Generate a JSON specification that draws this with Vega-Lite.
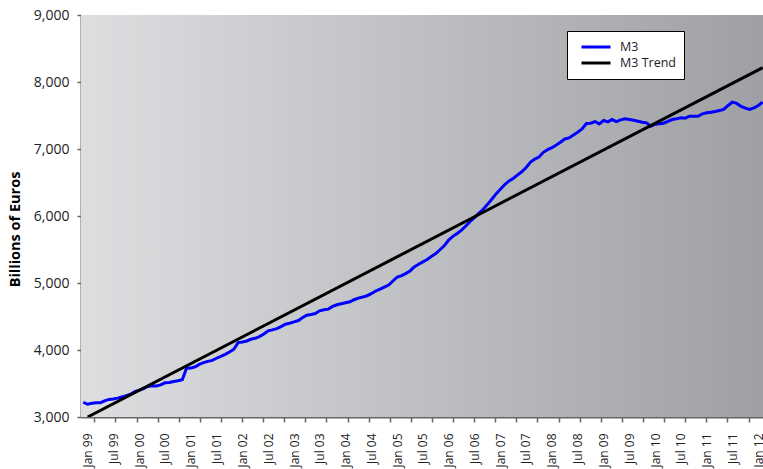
{
  "$schema": "https://vega.github.io/schema/vega-lite/v6.json",
  "width": 682,
  "height": 402,
  "autosize": {"type": "none"},
  "padding": {"left": 81, "top": 15, "right": 0, "bottom": 52},
  "background": "white",
  "config": {
    "font": "Open Sans",
    "view": {"stroke": null}
  },
  "layer": [
    {
      "data": {"values": [{"panel": "plot"}]},
      "mark": {
        "type": "rect",
        "color": {"gradient": "linear", "x1": 0, "y1": 0, "x2": 1, "y2": 0,
          "stops": [{"offset": 0, "color": "#dddee0"}, {"offset": 1, "color": "#9fa0a3"}]}
      },
      "encoding": {
        "x": {"value": 0},
        "x2": {"value": "width"},
        "y": {"value": 0},
        "y2": {"value": "height"}
      }
    },
    {
      "data": {"values": [
        {"date": "1998-12-01", "value": 3220, "series": "M3"},
        {"date": "1999-01-01", "value": 3190, "series": "M3"},
        {"date": "1999-02-01", "value": 3205, "series": "M3"},
        {"date": "1999-03-01", "value": 3214, "series": "M3"},
        {"date": "1999-04-01", "value": 3212, "series": "M3"},
        {"date": "1999-05-01", "value": 3240, "series": "M3"},
        {"date": "1999-06-01", "value": 3262, "series": "M3"},
        {"date": "1999-07-01", "value": 3270, "series": "M3"},
        {"date": "1999-08-01", "value": 3282, "series": "M3"},
        {"date": "1999-09-01", "value": 3300, "series": "M3"},
        {"date": "1999-10-01", "value": 3318, "series": "M3"},
        {"date": "1999-11-01", "value": 3340, "series": "M3"},
        {"date": "1999-12-01", "value": 3380, "series": "M3"},
        {"date": "2000-01-01", "value": 3400, "series": "M3"},
        {"date": "2000-02-01", "value": 3425, "series": "M3"},
        {"date": "2000-03-01", "value": 3455, "series": "M3"},
        {"date": "2000-04-01", "value": 3465, "series": "M3"},
        {"date": "2000-05-01", "value": 3462, "series": "M3"},
        {"date": "2000-06-01", "value": 3480, "series": "M3"},
        {"date": "2000-07-01", "value": 3510, "series": "M3"},
        {"date": "2000-08-01", "value": 3515, "series": "M3"},
        {"date": "2000-09-01", "value": 3530, "series": "M3"},
        {"date": "2000-10-01", "value": 3540, "series": "M3"},
        {"date": "2000-11-01", "value": 3555, "series": "M3"},
        {"date": "2000-12-01", "value": 3728, "series": "M3"},
        {"date": "2001-01-01", "value": 3730, "series": "M3"},
        {"date": "2001-02-01", "value": 3750, "series": "M3"},
        {"date": "2001-03-01", "value": 3785, "series": "M3"},
        {"date": "2001-04-01", "value": 3812, "series": "M3"},
        {"date": "2001-05-01", "value": 3830, "series": "M3"},
        {"date": "2001-06-01", "value": 3845, "series": "M3"},
        {"date": "2001-07-01", "value": 3877, "series": "M3"},
        {"date": "2001-08-01", "value": 3905, "series": "M3"},
        {"date": "2001-09-01", "value": 3935, "series": "M3"},
        {"date": "2001-10-01", "value": 3970, "series": "M3"},
        {"date": "2001-11-01", "value": 4012, "series": "M3"},
        {"date": "2001-12-01", "value": 4110, "series": "M3"},
        {"date": "2002-01-01", "value": 4120, "series": "M3"},
        {"date": "2002-02-01", "value": 4135, "series": "M3"},
        {"date": "2002-03-01", "value": 4160, "series": "M3"},
        {"date": "2002-04-01", "value": 4175, "series": "M3"},
        {"date": "2002-05-01", "value": 4200, "series": "M3"},
        {"date": "2002-06-01", "value": 4240, "series": "M3"},
        {"date": "2002-07-01", "value": 4285, "series": "M3"},
        {"date": "2002-08-01", "value": 4300, "series": "M3"},
        {"date": "2002-09-01", "value": 4320, "series": "M3"},
        {"date": "2002-10-01", "value": 4350, "series": "M3"},
        {"date": "2002-11-01", "value": 4385, "series": "M3"},
        {"date": "2002-12-01", "value": 4400, "series": "M3"},
        {"date": "2003-01-01", "value": 4420, "series": "M3"},
        {"date": "2003-02-01", "value": 4440, "series": "M3"},
        {"date": "2003-03-01", "value": 4480, "series": "M3"},
        {"date": "2003-04-01", "value": 4520, "series": "M3"},
        {"date": "2003-05-01", "value": 4530, "series": "M3"},
        {"date": "2003-06-01", "value": 4545, "series": "M3"},
        {"date": "2003-07-01", "value": 4585, "series": "M3"},
        {"date": "2003-08-01", "value": 4600, "series": "M3"},
        {"date": "2003-09-01", "value": 4610, "series": "M3"},
        {"date": "2003-10-01", "value": 4650, "series": "M3"},
        {"date": "2003-11-01", "value": 4675, "series": "M3"},
        {"date": "2003-12-01", "value": 4690, "series": "M3"},
        {"date": "2004-01-01", "value": 4705, "series": "M3"},
        {"date": "2004-02-01", "value": 4720, "series": "M3"},
        {"date": "2004-03-01", "value": 4750, "series": "M3"},
        {"date": "2004-04-01", "value": 4775, "series": "M3"},
        {"date": "2004-05-01", "value": 4790, "series": "M3"},
        {"date": "2004-06-01", "value": 4810, "series": "M3"},
        {"date": "2004-07-01", "value": 4840, "series": "M3"},
        {"date": "2004-08-01", "value": 4880, "series": "M3"},
        {"date": "2004-09-01", "value": 4910, "series": "M3"},
        {"date": "2004-10-01", "value": 4940, "series": "M3"},
        {"date": "2004-11-01", "value": 4970, "series": "M3"},
        {"date": "2004-12-01", "value": 5030, "series": "M3"},
        {"date": "2005-01-01", "value": 5090, "series": "M3"},
        {"date": "2005-02-01", "value": 5110, "series": "M3"},
        {"date": "2005-03-01", "value": 5140, "series": "M3"},
        {"date": "2005-04-01", "value": 5180, "series": "M3"},
        {"date": "2005-05-01", "value": 5240, "series": "M3"},
        {"date": "2005-06-01", "value": 5280, "series": "M3"},
        {"date": "2005-07-01", "value": 5315, "series": "M3"},
        {"date": "2005-08-01", "value": 5350, "series": "M3"},
        {"date": "2005-09-01", "value": 5400, "series": "M3"},
        {"date": "2005-10-01", "value": 5440, "series": "M3"},
        {"date": "2005-11-01", "value": 5500, "series": "M3"},
        {"date": "2005-12-01", "value": 5560, "series": "M3"},
        {"date": "2006-01-01", "value": 5645, "series": "M3"},
        {"date": "2006-02-01", "value": 5700, "series": "M3"},
        {"date": "2006-03-01", "value": 5740, "series": "M3"},
        {"date": "2006-04-01", "value": 5790, "series": "M3"},
        {"date": "2006-05-01", "value": 5850, "series": "M3"},
        {"date": "2006-06-01", "value": 5920, "series": "M3"},
        {"date": "2006-07-01", "value": 5975, "series": "M3"},
        {"date": "2006-08-01", "value": 6040, "series": "M3"},
        {"date": "2006-09-01", "value": 6100, "series": "M3"},
        {"date": "2006-10-01", "value": 6170, "series": "M3"},
        {"date": "2006-11-01", "value": 6250, "series": "M3"},
        {"date": "2006-12-01", "value": 6330, "series": "M3"},
        {"date": "2007-01-01", "value": 6400, "series": "M3"},
        {"date": "2007-02-01", "value": 6470, "series": "M3"},
        {"date": "2007-03-01", "value": 6520, "series": "M3"},
        {"date": "2007-04-01", "value": 6560, "series": "M3"},
        {"date": "2007-05-01", "value": 6610, "series": "M3"},
        {"date": "2007-06-01", "value": 6660, "series": "M3"},
        {"date": "2007-07-01", "value": 6720, "series": "M3"},
        {"date": "2007-08-01", "value": 6800, "series": "M3"},
        {"date": "2007-09-01", "value": 6850, "series": "M3"},
        {"date": "2007-10-01", "value": 6880, "series": "M3"},
        {"date": "2007-11-01", "value": 6950, "series": "M3"},
        {"date": "2007-12-01", "value": 6990, "series": "M3"},
        {"date": "2008-01-01", "value": 7020, "series": "M3"},
        {"date": "2008-02-01", "value": 7060, "series": "M3"},
        {"date": "2008-03-01", "value": 7100, "series": "M3"},
        {"date": "2008-04-01", "value": 7150, "series": "M3"},
        {"date": "2008-05-01", "value": 7165, "series": "M3"},
        {"date": "2008-06-01", "value": 7210, "series": "M3"},
        {"date": "2008-07-01", "value": 7250, "series": "M3"},
        {"date": "2008-08-01", "value": 7300, "series": "M3"},
        {"date": "2008-09-01", "value": 7380, "series": "M3"},
        {"date": "2008-10-01", "value": 7385, "series": "M3"},
        {"date": "2008-11-01", "value": 7410, "series": "M3"},
        {"date": "2008-12-01", "value": 7375, "series": "M3"},
        {"date": "2009-01-01", "value": 7425, "series": "M3"},
        {"date": "2009-02-01", "value": 7405, "series": "M3"},
        {"date": "2009-03-01", "value": 7440, "series": "M3"},
        {"date": "2009-04-01", "value": 7410, "series": "M3"},
        {"date": "2009-05-01", "value": 7435, "series": "M3"},
        {"date": "2009-06-01", "value": 7450, "series": "M3"},
        {"date": "2009-07-01", "value": 7440, "series": "M3"},
        {"date": "2009-08-01", "value": 7430, "series": "M3"},
        {"date": "2009-09-01", "value": 7415, "series": "M3"},
        {"date": "2009-10-01", "value": 7400, "series": "M3"},
        {"date": "2009-11-01", "value": 7390, "series": "M3"},
        {"date": "2009-12-01", "value": 7340, "series": "M3"},
        {"date": "2010-01-01", "value": 7370, "series": "M3"},
        {"date": "2010-02-01", "value": 7378, "series": "M3"},
        {"date": "2010-03-01", "value": 7385, "series": "M3"},
        {"date": "2010-04-01", "value": 7414, "series": "M3"},
        {"date": "2010-05-01", "value": 7440, "series": "M3"},
        {"date": "2010-06-01", "value": 7450, "series": "M3"},
        {"date": "2010-07-01", "value": 7465, "series": "M3"},
        {"date": "2010-08-01", "value": 7460, "series": "M3"},
        {"date": "2010-09-01", "value": 7489, "series": "M3"},
        {"date": "2010-10-01", "value": 7490, "series": "M3"},
        {"date": "2010-11-01", "value": 7488, "series": "M3"},
        {"date": "2010-12-01", "value": 7525, "series": "M3"},
        {"date": "2011-01-01", "value": 7540, "series": "M3"},
        {"date": "2011-02-01", "value": 7550, "series": "M3"},
        {"date": "2011-03-01", "value": 7560, "series": "M3"},
        {"date": "2011-04-01", "value": 7575, "series": "M3"},
        {"date": "2011-05-01", "value": 7590, "series": "M3"},
        {"date": "2011-06-01", "value": 7650, "series": "M3"},
        {"date": "2011-07-01", "value": 7700, "series": "M3"},
        {"date": "2011-08-01", "value": 7680, "series": "M3"},
        {"date": "2011-09-01", "value": 7635, "series": "M3"},
        {"date": "2011-10-01", "value": 7610, "series": "M3"},
        {"date": "2011-11-01", "value": 7590, "series": "M3"},
        {"date": "2011-12-01", "value": 7615, "series": "M3"},
        {"date": "2012-01-01", "value": 7650, "series": "M3"},
        {"date": "2012-02-01", "value": 7700, "series": "M3"},
        {"date": "1999-01-01", "value": 3000, "series": "M3 Trend"},
        {"date": "2012-02-01", "value": 8215, "series": "M3 Trend"}
      ]},
      "mark": {"type": "line", "strokeWidth": 3, "clip": true},
      "encoding": {
        "x": {
          "field": "date", "type": "temporal",
          "scale": {"type": "utc", "domain": [911088000000, 1328227200000]},
          "axis": {
            "title": null,
            "grid": false,
            "values": [915148800000, 930787200000, 946684800000, 962409600000, 978307200000, 993945600000, 1009843200000, 1025481600000, 1041379200000, 1057017600000, 1072915200000, 1088640000000, 1104537600000, 1120176000000, 1136073600000, 1151712000000, 1167609600000, 1183248000000, 1199145600000, 1214870400000, 1230768000000, 1246406400000, 1262304000000, 1277942400000, 1293840000000, 1309478400000, 1325376000000,
              919226880000, 932135040000, 945043200000, 957951360000, 970859520000, 983767680000, 996675840000, 1009584000000, 1022492160000, 1035400320000, 1048308480000, 1061216640000, 1074124800000, 1087032960000, 1099941120000, 1112849280000, 1125757440000, 1138665600000, 1151573760000, 1164481920000, 1177390080000, 1190298240000, 1203206400000, 1216114560000, 1229022720000, 1241930880000, 1254839040000, 1267747200000, 1280655360000, 1293563520000, 1306471680000, 1319379840000],
            "labelExpr": "(utcdate(datum.value) == 1 && utchours(datum.value) == 0) ? utcFormat(datum.value, '%b %y') : ''",
            "tickOpacity": {"condition": {"test": "utcdate(datum.value) == 1 && utchours(datum.value) == 0", "value": 0}, "value": 1},
            "tickColor": "#666666",
            "tickSize": 5,
            "tickWidth": 1.5,
            "labelAngle": -90,
            "labelAlign": "right",
            "labelBaseline": "middle",
            "labelPadding": 11,
            "labelOverlap": false,
            "labelFontSize": 12,
            "labelColor": "#222222",
            "domainColor": "#666666",
            "domainWidth": 2
          }
        },
        "y": {
          "field": "value", "type": "quantitative",
          "scale": {"domain": [3000, 9000], "nice": false, "zero": false},
          "axis": {
            "title": "Billions of Euros",
            "titleFontWeight": "bold",
            "titleFontSize": 14.5,
            "titleColor": "#000000",
            "titleAngle": 270,
            "titleAlign": "center",
            "titleBaseline": "alphabetic",
            "titleX": -62,
            "titleY": 214,
            "values": [3000, 4000, 5000, 6000, 7000, 8000, 9000],
            "format": ",d",
            "grid": true,
            "gridColor": {"condition": {"test": "datum.value == 9000", "value": "#777777"}, "value": "#000000"},
            "gridWidth": 1,
            "gridOpacity": 1,
            "tickSize": 4,
            "tickColor": "#666666",
            "tickWidth": 1.5,
            "domainColor": "#666666",
            "domainWidth": 2,
            "labelFontSize": 14,
            "labelPadding": 8,
            "labelColor": "#222222"
          }
        },
        "color": {
          "field": "series", "type": "nominal",
          "scale": {"domain": ["M3", "M3 Trend"], "range": ["#0000ff", "#000000"]},
          "legend": {
            "orient": "none",
            "legendX": 486,
            "legendY": 16,
            "title": null,
            "fillColor": "#ffffff",
            "strokeColor": "#000000",
            "padding": 8,
            "symbolType": "stroke",
            "symbolSize": 841,
            "symbolStrokeWidth": 3,
            "symbolOffset": 5,
            "clipHeight": 16,
            "labelFontSize": 12.5,
            "labelOffset": 8,
            "labelColor": "#222222",
            "rowPadding": 0
          }
        }
      }
    }
  ]
}
